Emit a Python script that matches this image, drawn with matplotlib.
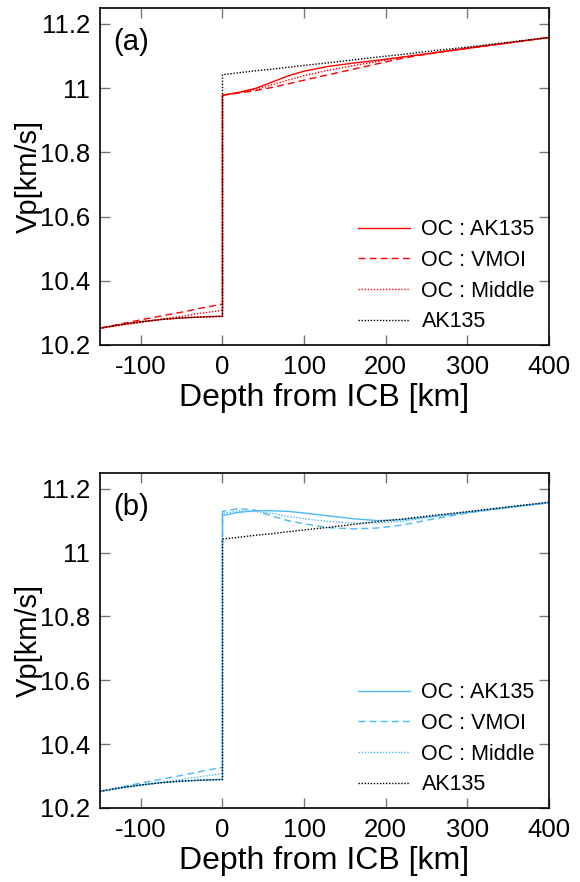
import matplotlib
matplotlib.use("Agg")
import matplotlib.pyplot as plt

plt.rcParams["font.family"] = ["Liberation Sans", "DejaVu Sans"]
plt.rcParams["axes.unicode_minus"] = False

# depth from ICB [km]; 0 appears twice for the jump at the ICB
depth_oc = [-150, -125, -100, -75, -50, -25, 0]
depth_ic = [0, 20, 40, 60, 80, 100, 130, 160, 190, 220, 260, 300, 350, 400]

# AK135 reference (black dotted)
ak135_oc = [10.252, 10.263, 10.272, 10.279, 10.284, 10.287, 10.289]
ak135_ic = [11.042, 11.048, 11.054, 11.059, 11.065, 11.071, 11.079, 11.088, 11.097, 11.105, 11.117, 11.128, 11.143, 11.158]

# outer-core side for the three models (same in both panels)
oc_ak135_oc = ak135_oc
oc_vmoi_oc = [10.252, 10.265, 10.278, 10.290, 10.302, 10.315, 10.327]
oc_middle_oc = [10.252, 10.261, 10.270, 10.280, 10.289, 10.299, 10.308]

# panel (a): inner-core side
a_ak135_ic = [10.978, 10.987, 10.999, 11.018, 11.038, 11.053, 11.068, 11.078, 11.087, 11.097, 11.110, 11.124, 11.141, 11.158]
a_vmoi_ic = [10.978, 10.985, 10.992, 11.002, 11.013, 11.025, 11.042, 11.059, 11.076, 11.093, 11.110, 11.124, 11.141, 11.158]
a_middle_ic = [10.978, 10.986, 10.996, 11.010, 11.025, 11.039, 11.056, 11.070, 11.083, 11.096, 11.111, 11.125, 11.141, 11.158]

# panel (b): inner-core side
b_ak135_ic = [11.116, 11.126, 11.131, 11.131, 11.129, 11.124, 11.115, 11.106, 11.100, 11.103, 11.114, 11.126, 11.142, 11.156]
b_vmoi_ic = [11.129, 11.138, 11.133, 11.115, 11.100, 11.090, 11.078, 11.074, 11.077, 11.086, 11.106, 11.124, 11.141, 11.156]
b_middle_ic = [11.123, 11.131, 11.128, 11.123, 11.114, 11.106, 11.097, 11.093, 11.093, 11.098, 11.113, 11.126, 11.141, 11.156]

labels = ["OC : AK135", "OC : VMOI", "OC : Middle", "AK135"]
panels = [
    ("(a)", "red", a_ak135_ic, a_vmoi_ic, a_middle_ic),
    ("(b)", "#4cb8f5", b_ak135_ic, b_vmoi_ic, b_middle_ic),
]

fig = plt.figure(figsize=(5.8, 8.82), dpi=100)
rects = [[0.1725, 0.609, 0.774, 0.382], [0.1725, 0.084, 0.774, 0.380]]

for rect, (tag, color, ic1, ic2, ic3) in zip(rects, panels):
    ax = fig.add_axes(rect)
    ax.plot(depth_oc + depth_ic, oc_ak135_oc + ic1, color=color, lw=1.0, ls="-", label=labels[0])
    ax.plot(depth_oc + depth_ic, oc_vmoi_oc + ic2, color=color, lw=1.0, ls=(0, (5, 3)), label=labels[1])
    ax.plot(depth_oc + depth_ic, oc_middle_oc + ic3, color=color, lw=1.0, ls=(0, (1, 1.2)), label=labels[2])
    ax.plot(depth_oc + depth_ic, ak135_oc + ak135_ic, color="black", lw=1.0, ls=(0, (1, 1.2)), label=labels[3])

    ax.set_xlim(-150, 400)
    ax.set_ylim(10.2, 11.25)
    ax.set_xticks([-100, 0, 100, 200, 300, 400])
    ax.set_yticks([10.2, 10.4, 10.6, 10.8, 11.0, 11.2])
    ax.set_yticklabels(["10.2", "10.4", "10.6", "10.8", "11", "11.2"])
    ax.tick_params(direction="in", top=True, right=True, length=7, width=1,
                   color="#777777", labelsize=18.5, pad=7)
    for s in ax.spines.values():
        s.set_linewidth(1.2)
    ax.set_xlabel("Depth from ICB [km]", fontsize=23, labelpad=3)
    ax.set_ylabel("Vp[km/s]", fontsize=21, labelpad=-2)
    ax.text(0.03, 0.94, tag, transform=ax.transAxes, fontsize=21, va="top", ha="left")
    ax.legend(loc="lower right", bbox_to_anchor=(1.012, -0.02), frameon=False,
              fontsize=15.5, handlelength=2.4, handletextpad=0.55, labelspacing=0.45)

fig.savefig("out.png", dpi=100)
